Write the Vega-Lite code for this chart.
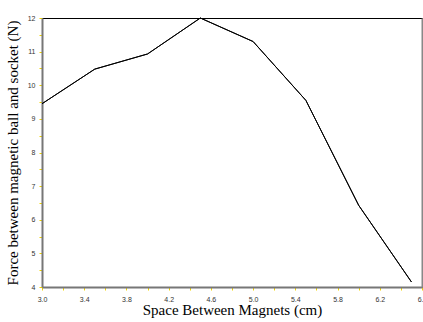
{
  "$schema": "https://vega.github.io/schema/vega-lite/v6.json",
  "width": 380,
  "height": 269,
  "autosize": {"type": "none"},
  "padding": {"left": 42, "top": 18, "right": 1, "bottom": 35},
  "background": "white",
  "config": {
    "view": {"stroke": "black", "strokeWidth": 1},
    "axis": {
      "grid": false,
      "domainColor": "#777777",
      "domainWidth": 2,
      "tickColor": "#f2d600",
      "tickWidth": 1,
      "tickSize": 3,
      "labelFont": "Liberation Sans",
      "labelFontSize": 7,
      "labelColor": "#333333",
      "titleFont": "Liberation Serif",
      "titleFontSize": 15,
      "titleFontWeight": "normal",
      "titleColor": "black"
    }
  },
  "data": {
    "values": [
      {"space": 3.0, "force": 9.45},
      {"space": 3.5, "force": 10.48},
      {"space": 4.0, "force": 10.93},
      {"space": 4.5, "force": 12.0},
      {"space": 5.0, "force": 11.3},
      {"space": 5.5, "force": 9.55},
      {"space": 6.0, "force": 6.43},
      {"space": 6.5, "force": 4.15}
    ]
  },
  "encoding": {
    "x": {
      "field": "space",
      "type": "quantitative",
      "scale": {"domain": [3.0, 6.6], "nice": false, "zero": false},
      "axis": {
        "title": "Space Between Magnets (cm)",
        "values": [3.0, 3.2, 3.4, 3.6, 3.8, 4.0, 4.2, 4.4, 4.6, 4.8, 5.0, 5.2, 5.4, 5.6, 5.8, 6.0, 6.2, 6.4, 6.6],
        "labelExpr": "round(datum.value*10) % 4 == 2 ? format(datum.value, '.1f') : ''",
        "labelPadding": 5,
        "labelFlush": false,
        "labelOverlap": false,
        "titlePadding": 0
      }
    },
    "y": {
      "field": "force",
      "type": "quantitative",
      "scale": {"domain": [4, 12], "nice": false, "zero": false}
    }
  },
  "layer": [
    {
      "mark": {"type": "line", "color": "black", "strokeWidth": 1},
      "encoding": {
        "y": {
          "field": "force",
          "type": "quantitative",
          "scale": {"domain": [4, 12], "nice": false, "zero": false},
          "axis": {
            "title": "Force between magnetic ball and socket (N)",
            "values": [4, 4.5, 5, 5.5, 6, 6.5, 7, 7.5, 8, 8.5, 9, 9.5, 10, 10.5, 11, 11.5, 12],
            "labelExpr": "datum.value % 1 == 0 ? format(datum.value, 'd') : ''",
            "labelPadding": 4,
            "labelFlush": false,
            "labelOverlap": false,
            "titlePadding": 7
          }
        }
      }
    },
    {
      "mark": {"type": "line", "color": "black", "strokeWidth": 1},
      "encoding": {
        "y": {
          "field": "force",
          "type": "quantitative",
          "scale": {"domain": [4, 12], "nice": false, "zero": false},
          "axis": {"orient": "right", "title": null, "ticks": false, "labels": false, "domainColor": "#888888"}
        }
      }
    }
  ],
  "resolve": {"axis": {"y": "independent"}}
}
